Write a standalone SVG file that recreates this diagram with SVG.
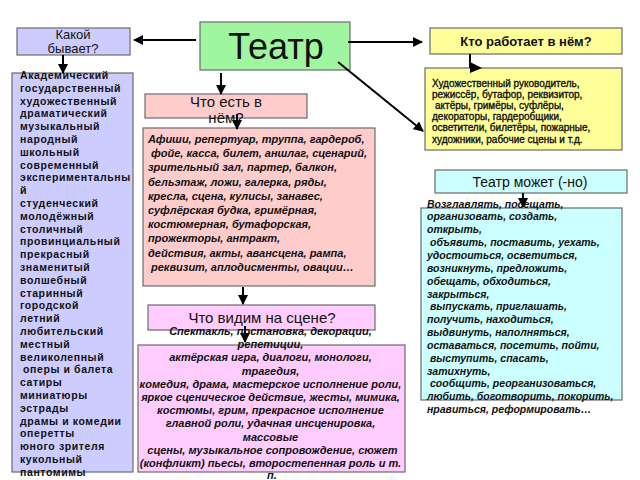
<svg xmlns="http://www.w3.org/2000/svg" width="640" height="480" viewBox="0 0 640 480">
<style>
.box{stroke:#6b6b6b;stroke-width:1.2}
.lav{fill:#ccccff}.grn{fill:#a0f5a0}.yel{fill:#ffff99}.pnk{fill:#ffcccc}.vio{fill:#ffccff}.cya{fill:#ccffff}
text{font-family:"Liberation Sans",Arial,sans-serif;fill:#111}
.lst{font-size:10.5px;font-weight:bold;letter-spacing:0.6px}
.it{font-size:11px;font-style:italic;font-weight:bold}
.it2{font-size:10.5px;font-style:italic;font-weight:bold}
.yt{font-size:10px;stroke:#111;stroke-width:0.35}
.ln{stroke:#000;stroke-width:2;fill:none}
</style>
<defs>
<marker id="ah" viewBox="0 0 10 10" refX="9" refY="5" markerWidth="5" markerHeight="5" orient="auto" markerUnits="strokeWidth">
<path d="M0,0 L10,5 L0,10 z" fill="#000"/>
</marker>
</defs>

<g id="teatr">
<rect class="box grn" x="200" y="22" width="150" height="48"/>
<text x="276" y="59" font-size="36" text-anchor="middle">Театр</text>
</g>

<g id="kakoy">
<rect class="box lav" x="17" y="28" width="113" height="27"/>
<text x="73" y="39" font-size="13" text-anchor="middle">Какой</text>
<text x="73" y="53" font-size="13" text-anchor="middle">бывает?</text>
</g>

<g id="kto">
<rect class="box yel" x="430" y="28" width="192" height="26"/>
<text x="526" y="46" font-size="13" font-weight="bold" text-anchor="middle">Кто работает в нём?</text>
</g>

<g id="list">
<rect class="box lav" x="12" y="73" width="121" height="399"/>
<text class="lst" x="20">
<tspan x="20" y="79">Академический</tspan>
<tspan x="20" y="91.8">государственный</tspan>
<tspan x="20" y="104.6">художественный</tspan>
<tspan x="20" y="117.4">драматический</tspan>
<tspan x="20" y="130.2">музыкальный</tspan>
<tspan x="20" y="143">народный</tspan>
<tspan x="20" y="155.8">школьный</tspan>
<tspan x="20" y="168.6">современный</tspan>
<tspan x="20" y="181.4">экспериментальны</tspan>
<tspan x="20" y="194.2">й</tspan>
<tspan x="20" y="207">студенческий</tspan>
<tspan x="20" y="219.8">молодёжный</tspan>
<tspan x="20" y="232.6">столичный</tspan>
<tspan x="20" y="245.4">провинциальный</tspan>
<tspan x="20" y="258.2">прекрасный</tspan>
<tspan x="20" y="271">знаменитый</tspan>
<tspan x="20" y="283.8">волшебный</tspan>
<tspan x="20" y="296.6">старинный</tspan>
<tspan x="20" y="309.4">городской</tspan>
<tspan x="20" y="322.2">летний</tspan>
<tspan x="20" y="335">любительский</tspan>
<tspan x="20" y="347.8">местный</tspan>
<tspan x="20" y="360.6">великолепный</tspan>
<tspan x="23" y="373.4">оперы и балета</tspan>
<tspan x="20" y="386.2">сатиры</tspan>
<tspan x="20" y="399">миниатюры</tspan>
<tspan x="20" y="411.8">эстрады</tspan>
<tspan x="20" y="424.6">драмы и комедии</tspan>
<tspan x="20" y="437.4">оперетты</tspan>
<tspan x="20" y="450.2">юного зрителя</tspan>
<tspan x="20" y="463">кукольный</tspan>
<tspan x="20" y="475.8">пантомимы</tspan>
</text>
</g>

<g id="chtoest">
<rect class="box pnk" x="145" y="94" width="162" height="24"/>
<text x="226" y="107" font-size="15" text-anchor="middle">Что есть в</text>
<text x="226" y="123" font-size="15" text-anchor="middle">нём?</text>
</g>

<g id="pinkbox">
<rect class="box pnk" x="143" y="128" width="232" height="158"/>
<text class="it" x="148">
<tspan x="148" y="143">Афиши, репертуар, труппа, гардероб,</tspan>
<tspan x="151" y="157.2">фойе, касса, билет, аншлаг, сценарий,</tspan>
<tspan x="148" y="171.4">зрительный зал, партер, балкон,</tspan>
<tspan x="148" y="185.6">бельэтаж, ложи, галерка, ряды,</tspan>
<tspan x="148" y="199.8">кресла, сцена, кулисы, занавес,</tspan>
<tspan x="148" y="214">суфлёрская будка, гримёрная,</tspan>
<tspan x="148" y="228.2">костюмерная, бутафорская,</tspan>
<tspan x="148" y="242.4">прожекторы, антракт,</tspan>
<tspan x="148" y="256.6">действия, акты, авансцена, рампа,</tspan>
<tspan x="151" y="270.8">реквизит, аплодисменты, овации…</tspan>
</text>
</g>

<g id="chtovidim">
<rect class="box vio" x="148" y="305" width="227" height="25"/>
<text x="262" y="323" font-size="15" text-anchor="middle">Что видим на сцене?</text>
</g>

<g id="vidimbox">
<rect class="box vio" x="138" y="345" width="267" height="127"/>
<text class="it" text-anchor="middle">
<tspan x="272" y="335">Спектакль, постановка, декорации,</tspan>
<tspan x="272" y="348.2">репетиции,</tspan>
<tspan x="272" y="361.4">актёрская игра, диалоги, монологи,</tspan>
<tspan x="272" y="374.6">трагедия,</tspan>
<tspan x="272" y="387.8">комедия, драма, мастерское исполнение роли,</tspan>
<tspan x="272" y="401">яркое  сценическое действие, жесты, мимика,</tspan>
<tspan x="272" y="414.2">костюмы, грим, прекрасное исполнение</tspan>
<tspan x="272" y="427.4">главной роли, удачная инсценировка,</tspan>
<tspan x="272" y="440.6">массовые</tspan>
<tspan x="274" y="453.8">сцены, музыкальное сопровождение, сюжет</tspan>
<tspan x="272" y="467">(конфликт) пьесы, второстепенная роль и т.</tspan>
<tspan x="272" y="479">п.</tspan>
</text>
</g>

<g id="workers">
<rect class="box yel" x="425" y="68" width="197" height="82"/>
<text class="yt" x="432">
<tspan x="432" y="86.5">Художественный руководитель,</tspan>
<tspan x="432" y="97.7">режиссёр, бутафор, реквизитор,</tspan>
<tspan x="435" y="108.9">актёры, гримёры, суфлёры,</tspan>
<tspan x="432" y="120.1">декораторы, гардеробщики,</tspan>
<tspan x="432" y="131.3">осветители, билетёры, пожарные,</tspan>
<tspan x="432" y="142.5">художники, рабочие сцены и т.д.</tspan>
</text>
</g>

<g id="mozhet">
<rect class="box cya" x="435" y="170" width="192" height="23"/>
<text x="530" y="187" font-size="14" text-anchor="middle">Театр может (-но)</text>
</g>

<g id="verbs">
<rect class="box cya" x="421" y="208" width="201" height="192"/>
<text class="it2" x="427">
<tspan x="427" y="207.5">Возглавлять, посещать,</tspan>
<tspan x="427" y="220.4">организовать, создать,</tspan>
<tspan x="427" y="233.2">открыть,</tspan>
<tspan x="430" y="246.1">объявить, поставить, уехать,</tspan>
<tspan x="427" y="258.9">удостоиться, осветиться,</tspan>
<tspan x="427" y="271.8">возникнуть,  предложить,</tspan>
<tspan x="427" y="284.6">обещать, обходиться,</tspan>
<tspan x="427" y="297.5">закрыться,</tspan>
<tspan x="430" y="310.3">выпускать, приглашать,</tspan>
<tspan x="427" y="323.2">получить, находиться,</tspan>
<tspan x="427" y="336">выдвинуть, наполняться,</tspan>
<tspan x="427" y="348.9">оставаться, посетить, пойти,</tspan>
<tspan x="430" y="361.7">выступить, спасать,</tspan>
<tspan x="427" y="374.6">затихнуть,</tspan>
<tspan x="430" y="387.4">сообщить, реорганизоваться,</tspan>
<tspan x="427" y="400.3">любить, боготворить, покорить,</tspan>
<tspan x="427" y="413.1">нравиться, реформировать…</tspan>
</text>
</g>

<g id="connectors">
<line class="ln" x1="196" y1="40" x2="134" y2="40" marker-end="url(#ah)"/>
<line class="ln" x1="348" y1="42" x2="422" y2="42" marker-end="url(#ah)"/>
<line class="ln" x1="221" y1="73" x2="221" y2="94" marker-end="url(#ah)"/>
<line class="ln" x1="338" y1="62" x2="423" y2="131" marker-end="url(#ah)"/>
<line class="ln" x1="63" y1="55" x2="63" y2="73" marker-end="url(#ah)"/>
<line class="ln" x1="237" y1="114" x2="237" y2="129" marker-end="url(#ah)"/>
<line class="ln" x1="243" y1="287" x2="243" y2="304" marker-end="url(#ah)"/>
<line class="ln" x1="245" y1="326" x2="245" y2="342" marker-end="url(#ah)"/>
<line class="ln" x1="470" y1="54" x2="470" y2="68"/>
<path d="M470,62 L482,68 L470,73 z" fill="#000"/>
<line class="ln" x1="523" y1="193" x2="523" y2="207" marker-end="url(#ah)"/>
</g>
</svg>
